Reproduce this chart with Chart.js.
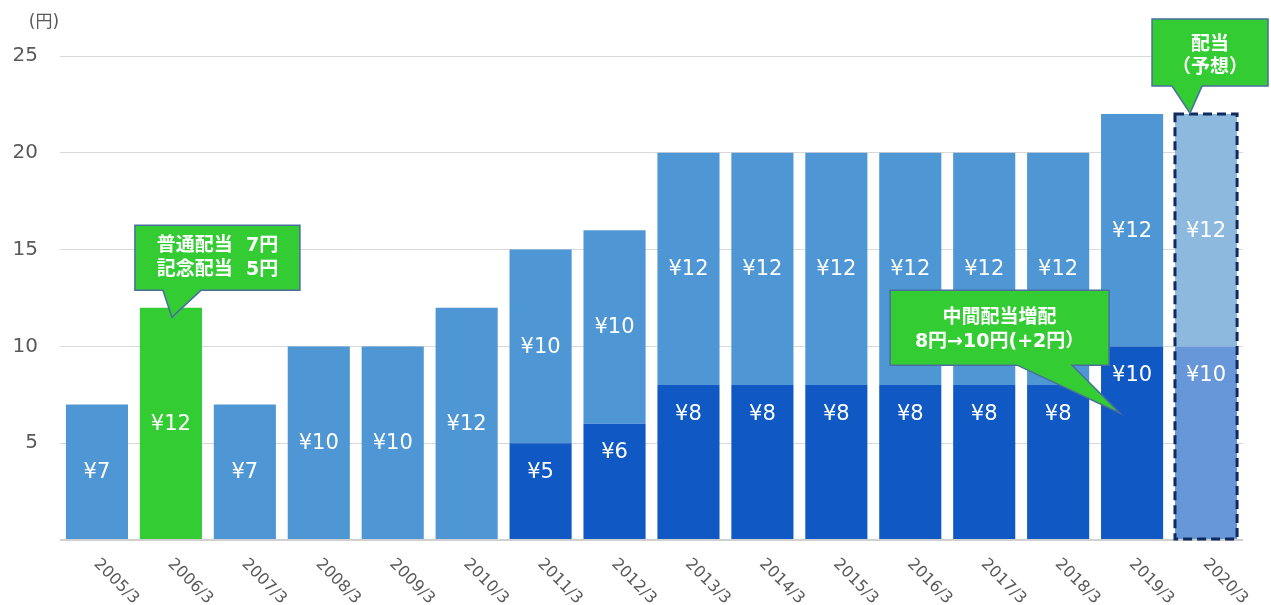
<!DOCTYPE html>
<html>
<head>
<meta charset="utf-8">
<script src="https://cdn.jsdelivr.net/npm/chart.js@4"></script>
<style>
  html, body { margin: 0; padding: 0; background: #fff; }
  #wrap { width: 1271px; height: 605px; position: relative; }
</style>
</head>
<body>
<div id="wrap"><canvas id="c"></canvas></div>
<script>
// ---- data ----
const categories = ['2005/3','2006/3','2007/3','2008/3','2009/3','2010/3','2011/3','2012/3','2013/3','2014/3','2015/3','2016/3','2017/3','2018/3','2019/3','2020/3'];
const interimDividend = [null,null,null,null,null,null,5,6,8,8,8,8,8,8,10,10];
const yearEndDividend = [7,12,7,10,10,12,10,10,12,12,12,12,12,12,12,12];
const yTicks = [5,10,15,20,25];
const unitLabel = '(円)';
const callout1Lines = ['普通配当  7円','記念配当  5円'];
const callout2Lines = ['中間配当増配','8円→10円(+2円）'];
const callout3Lines = ['配当','（予想）'];

// ---- styles ----
const DARK = '#1058C4', MID = '#4F96D4', GREEN = '#33CC33';
const F_DARK = '#6897D9', F_MID = '#8DB9DF';
const interimColors = categories.map((c,i) => i === 15 ? F_DARK : DARK);
const yearEndColors = categories.map((c,i) => i === 1 ? GREEN : (i === 15 ? F_MID : MID));
const LATIN = '"DejaVu Sans", "Noto Sans CJK JP", sans-serif';
const CJK = '"Noto Sans CJK JP", "DejaVu Sans", sans-serif';

function drawCallout(ctx, box, tail, lines, lineOffsets, font) {
  ctx.save();
  ctx.beginPath();
  ctx.moveTo(box.l, box.t);
  ctx.lineTo(box.r, box.t);
  ctx.lineTo(box.r, box.b);
  ctx.lineTo(tail.x2, box.b);
  ctx.lineTo(tail.tx, tail.ty);
  ctx.lineTo(tail.x1, box.b);
  ctx.lineTo(box.l, box.b);
  ctx.closePath();
  ctx.fillStyle = GREEN;
  ctx.fill();
  ctx.lineWidth = 1.5;
  ctx.strokeStyle = '#4A6E9E';
  ctx.stroke();
  ctx.fillStyle = '#fff';
  ctx.font = font;
  ctx.textAlign = 'center';
  ctx.textBaseline = 'middle';
  const cx = (box.l + box.r) / 2;
  lines.forEach((s, k) => ctx.fillText(s, cx, box.t + lineOffsets[k]));
  ctx.restore();
}

const overlay = {
  id: 'overlay',
  afterDatasetsDraw(chart) {
    const ctx = chart.ctx;
    const m0 = chart.getDatasetMeta(0), m1 = chart.getDatasetMeta(1);
    // value labels
    ctx.save();
    ctx.fillStyle = '#fff';
    ctx.font = '21px ' + LATIN;
    ctx.textAlign = 'center';
    ctx.textBaseline = 'middle';
    categories.forEach((c, i) => {
      const v0 = interimDividend[i], v1 = yearEndDividend[i];
      if (v0 != null) {
        const e = m0.data[i];
        ctx.fillText('¥' + v0, e.x, e.y + 29);
      }
      if (v1 != null) {
        const e = m1.data[i];
        ctx.fillText('¥' + v1, e.x, (e.y + e.base) / 2 + 1);
      }
    });
    ctx.restore();
    // dashed forecast outline
    const a = m1.data[15], b = m0.data[15];
    ctx.save();
    ctx.setLineDash([9, 5]);
    ctx.lineWidth = 3;
    ctx.strokeStyle = '#0F2A5C';
    const half = a.width / 2;
    ctx.strokeRect(a.x - half, a.y, a.width, b.base - a.y);
    ctx.restore();
  },
  afterDraw(chart) {
    const ctx = chart.ctx;
    const xs = chart.scales.x, ys = chart.scales.y;
    // x labels rotated
    ctx.save();
    ctx.fillStyle = '#595959';
    ctx.font = '16px ' + LATIN;
    ctx.textAlign = 'left';
    ctx.textBaseline = 'top';
    categories.forEach((c, i) => {
      const x = xs.getPixelForValue(i);
      ctx.save();
      ctx.translate(x + 5, ys.getPixelForValue(0) + 16);
      ctx.rotate(Math.PI / 4);
      ctx.fillText(c, 0, 0);
      ctx.restore();
    });
    // unit label
    ctx.font = '17px ' + LATIN;
    ctx.textAlign = 'center';
    ctx.textBaseline = 'middle';
    ctx.fillText(unitLabel, 44, 23);
    ctx.restore();

    const bold = 'bold 19px ' + LATIN;
    // callout 1
    let tx = xs.getPixelForValue(1) + 1, ty = ys.getPixelForValue(11.5);
    drawCallout(ctx, {l: tx - 37, r: tx + 128, t: ty - 92, b: ty - 27},
      {x1: tx - 9, x2: tx + 29, tx, ty}, callout1Lines, [21, 45], bold);
    // callout 2
    tx = xs.getPixelForValue(14) - 12; ty = ys.getPixelForValue(6.55);
    drawCallout(ctx, {l: tx - 230, r: tx - 11, t: ty - 123, b: ty - 48},
      {x1: tx - 103, x2: tx - 48, tx, ty}, callout2Lines, [28, 52], bold);
    // callout 3
    tx = xs.getPixelForValue(15) - 16; ty = ys.getPixelForValue(22) - 1;
    drawCallout(ctx, {l: tx - 38, r: tx + 78, t: ty - 94, b: ty - 27},
      {x1: tx - 18, x2: tx + 12, tx, ty}, callout3Lines, [24, 47], 'bold 19px ' + CJK);
  }
};

new Chart(document.getElementById('c'), {
  type: 'bar',
  data: {
    labels: categories,
    datasets: [
      { label: '中間配当', data: interimDividend, backgroundColor: interimColors, borderWidth: 0,
        categoryPercentage: 1, barPercentage: 0.84 },
      { label: '期末配当', data: yearEndDividend, backgroundColor: yearEndColors, borderWidth: 0,
        categoryPercentage: 1, barPercentage: 0.84 }
    ]
  },
  options: {
    responsive: true,
    maintainAspectRatio: false,
    animation: false,
    layout: { padding: { top: 56, right: 28, left: 0, bottom: 0 } },
    plugins: { legend: { display: false }, tooltip: { enabled: false } },
    scales: {
      x: {
        stacked: true,
        grid: { display: false },
        border: { display: false },
        ticks: { display: false },
        afterFit(s) { s.height = 65; }
      },
      y: {
        stacked: true,
        min: 0, max: 25,
        afterBuildTicks(s) { s.ticks = [0].concat(yTicks).map(v => ({ value: v })); },
        ticks: {
          callback: v => v === 0 ? '' : String(v),
          color: '#595959',
          font: { size: 20, family: '"DejaVu Sans", sans-serif' },
          padding: 22
        },
        grid: {
          color: ctx => ctx.tick && ctx.tick.value === 0 ? '#D0D0D0' : '#D9D9D9',
          lineWidth: ctx => ctx.tick && ctx.tick.value === 0 ? 2 : 1,
          drawTicks: false
        },
        border: { display: false },
        afterFit(s) { s.width = 60; }
      }
    }
  },
  plugins: [overlay]
});
</script>
</body>
</html>
